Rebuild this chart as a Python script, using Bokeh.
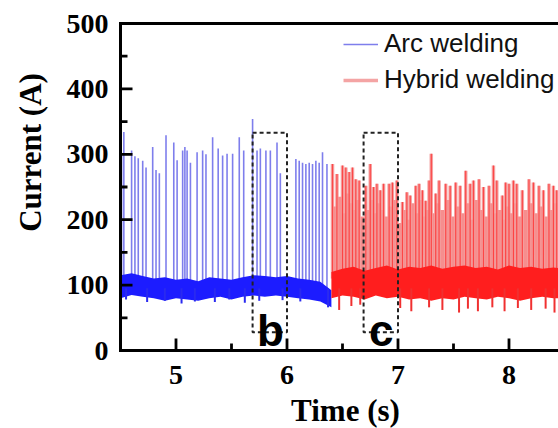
import math
from bokeh.plotting import figure
from bokeh.models import ColumnDataSource, Range1d, Legend, LegendItem
from bokeh.core.properties import value
from bokeh.embed import file_html
from bokeh.resources import INLINE

# ---------------- data ----------------
# Arc welding (blue): baseline band, sampled every 0.1 s
blue_t = [4.50, 4.60, 4.70, 4.80, 4.90, 5.00, 5.10, 5.20, 5.30, 5.40,
          5.50, 5.60, 5.70, 5.80, 5.90, 6.00, 6.10, 6.20, 6.30, 6.40]
blue_upper = [115, 118, 114, 110, 112, 108, 110, 106, 112, 110,
              108, 112, 115, 114, 112, 114, 110, 108, 105, 92]
blue_lower = [80, 85, 82, 80, 76, 80, 78, 76, 80, 82,
              78, 82, 84, 82, 84, 82, 80, 78, 75, 66]
# short-circuit spikes (time, peak current)
blue_spike_t = [4.51, 4.53, 4.60, 4.63, 4.66, 4.70, 4.73, 4.79, 4.82, 4.85,
                4.91, 4.98, 5.01, 5.06, 5.08, 5.10, 5.13, 5.19, 5.24, 5.27,
                5.33, 5.38, 5.42, 5.46, 5.51, 5.57, 5.61, 5.69, 5.73, 5.76,
                5.81, 5.85, 5.91, 5.94, 6.08, 6.11, 6.14, 6.17, 6.20, 6.23,
                6.26, 6.29, 6.32, 6.36]
blue_spike_peak = [300, 334, 306, 297, 294, 290, 280, 311, 276, 271,
                   329, 318, 291, 306, 311, 306, 287, 303, 306, 300,
                   326, 309, 298, 301, 301, 326, 306, 354, 306, 309,
                   306, 306, 318, 271, 293, 290, 287, 285, 287, 285,
                   290, 287, 303, 285]
blue_dip_t = [4.55, 4.74, 4.90, 5.05, 5.17, 5.35, 5.48, 5.62, 5.75, 5.96, 6.12, 6.37]
blue_dip_v = [78, 74, 76, 72, 75, 74, 78, 73, 76, 77, 75, 66]

# Hybrid welding (red): baseline band, sampled every 0.1 s
red_t = [6.40, 6.50, 6.60, 6.70, 6.80, 6.90, 7.00, 7.10, 7.20, 7.30,
         7.40, 7.50, 7.60, 7.70, 7.80, 7.90, 8.00, 8.10, 8.20, 8.30, 8.40, 8.45]
red_upper = [120, 125, 128, 122, 126, 130, 124, 128, 126, 130,
             125, 128, 130, 126, 128, 124, 130, 126, 128, 125, 127, 126]
red_lower = [80, 84, 82, 78, 84, 80, 82, 78, 80, 76,
             80, 78, 82, 80, 78, 82, 80, 76, 80, 82, 80, 80]
red_spike_t = [6.41, 6.45, 6.50, 6.53, 6.56, 6.59, 6.62, 6.65, 6.71, 6.75,
               6.78, 6.81, 6.84, 6.87, 6.92, 6.95, 6.99, 7.04, 7.08, 7.11,
               7.16, 7.19, 7.22, 7.25, 7.28, 7.30, 7.34, 7.37, 7.43, 7.47,
               7.52, 7.56, 7.61, 7.65, 7.68, 7.73, 7.77, 7.82, 7.86, 7.89,
               7.94, 7.97, 8.00, 8.04, 8.07, 8.12, 8.18, 8.22, 8.27, 8.31,
               8.36, 8.40, 8.43]
red_spike_peak = [285, 270, 283, 280, 273, 280, 262, 260, 252, 285,
                  250, 255, 245, 255, 255, 257, 260, 227, 242, 237,
                  252, 255, 245, 229, 260, 301, 240, 260, 255, 252,
                  257, 252, 275, 255, 260, 262, 250, 252, 283, 260,
                  237, 257, 255, 260, 255, 245, 262, 257, 252, 245,
                  255, 252, 245]
# lower, denser spikes that fill the hybrid-welding trace
red_minor_t = [6.43, 6.48, 6.515, 6.545, 6.575, 6.605, 6.635, 6.68, 6.73, 6.765,
               6.795, 6.825, 6.855, 6.895, 6.935, 6.97, 7.015, 7.06, 7.095, 7.135,
               7.175, 7.205, 7.235, 7.265, 7.32, 7.355, 7.40, 7.45, 7.495, 7.54,
               7.585, 7.63, 7.665, 7.705, 7.75, 7.795, 7.84, 7.875, 7.915, 7.955,
               7.985, 8.02, 8.055, 8.095, 8.15, 8.20, 8.245, 8.29, 8.335, 8.38, 8.415]
red_minor_peak = [220, 235, 210, 240, 225, 215, 230, 205, 215, 230,
                  210, 225, 215, 205, 220, 230, 195, 215, 200, 225,
                  210, 230, 205, 215, 210, 225, 215, 230, 205, 220,
                  210, 225, 200, 230, 215, 205, 225, 210, 215, 200,
                  220, 210, 225, 205, 215, 225, 210, 220, 205, 215, 225]
red_dip_t = [6.47, 6.58, 6.66, 7.02, 7.12, 7.28, 7.40, 7.55, 7.63, 7.72,
             7.85, 7.96, 8.08, 8.20, 8.33, 8.41]
red_dip_v = [62, 68, 70, 65, 60, 66, 62, 58, 64, 60, 66, 60, 65, 62, 64, 58]

# dashed boxes (b, c): left, right, bottom, top
box_left = [5.69, 6.69]
box_right = [6.00, 7.00]
box_bottom = [28, 28]
box_top = [333, 333]
box_label = ["b", "c"]
box_label_x = [5.85, 6.85]
box_label_y = [30, 30]

y_ticks = [0, 100, 200, 300, 400, 500]
y_minor = [50, 150, 250, 350, 450]
x_ticks = [5, 6, 7, 8]
x_minor = [4.5, 5.5, 6.5, 7.5, 8.5]
y_tick_labels = ["0", "100", "200", "300", "400", "500"]
x_tick_labels = ["5", "6", "7", "8"]
x_title = "Time (s)"
y_title = "Current (A)"

# ---------------- geometry ----------------
# the data box spans X0..X1, Y0..Y1; it sits at pixels left=120, top=23, bottom=350
X0, X1, Y0, Y1 = 4.5, 8.446, 0, 500
W, H = 558, 428
BL, BT, BB = 120, 23, 78
px_x = (X1 - X0) / (W - BL)          # data units per pixel, x
px_y = (Y1 - Y0) / (H - BT - BB)     # data units per pixel, y

def sx(px):   # canvas pixel (from left) -> data x
    return X0 + (px - BL) * px_x

def sy(py):   # canvas pixel (from top) -> data y
    return Y0 + (H - BB - py) * px_y

p = figure(width=W, height=H, output_backend="svg", toolbar_location=None,
           x_range=Range1d(sx(0), sx(W)), y_range=Range1d(sy(H), sy(0)),
           x_axis_location=None, y_axis_location=None,
           min_border_left=0, min_border_right=0, min_border_top=0,
           min_border_bottom=0)
p.outline_line_color = None
p.grid.visible = False
p.background_fill_color = "white"
p.border_fill_color = "white"

def base_at(ts, tb, ub):
    # upper-band value at each spike time, taken from the nearest baseline sample
    out = []
    for t in ts:
        i = min(range(len(tb)), key=lambda k: abs(tb[k] - t))
        out.append(ub[i] - 10)
    return out

# blue
bsrc = ColumnDataSource(dict(x=blue_spike_t, y0=base_at(blue_spike_t, blue_t, blue_upper),
                             y1=blue_spike_peak))
blue_spikes = p.segment(x0="x", y0="y0", x1="x", y1="y1", source=bsrc,
                        line_color="#7070ea", line_width=1.6, line_alpha=0.9)
p.varea(x=blue_t, y1=blue_lower, y2=blue_upper, fill_color="#1c1cff")
p.segment(x0=blue_dip_t, y0=[95] * len(blue_dip_t), x1=blue_dip_t, y1=blue_dip_v,
          line_color="#2a2af0", line_width=2)

# red
msrc = ColumnDataSource(dict(x=red_minor_t, y0=base_at(red_minor_t, red_t, red_upper),
                             y1=red_minor_peak))
p.segment(x0="x", y0="y0", x1="x", y1="y1", source=msrc,
          line_color="#f47a7a", line_width=4.5, line_alpha=0.85)
rsrc = ColumnDataSource(dict(x=red_spike_t, y0=base_at(red_spike_t, red_t, red_upper),
                             y1=red_spike_peak))
red_spikes = p.segment(x0="x", y0="y0", x1="x", y1="y1", source=rsrc,
                       line_color="#f39a9a", line_width=3.5, line_alpha=0.9)
p.segment(x0="x", y0="y0", x1="x", y1="y1", source=rsrc,
          line_color="#ff3030", line_width=1.2, line_alpha=0.8)
p.varea(x=red_t, y1=red_lower, y2=red_upper, fill_color="#ff1e1e")
p.segment(x0=red_dip_t, y0=[95] * len(red_dip_t), x1=red_dip_t, y1=red_dip_v,
          line_color="#f03030", line_width=2)

# white masks outside the data box
p.varea(x=[sx(0), sx(W)], y1=[sy(H), sy(H)], y2=[Y0, Y0], fill_color="white")
p.varea(x=[sx(0), X0], y1=[Y0, Y0], y2=[Y1, Y1], fill_color="white")

# axis lines (left, bottom, top) as solid bars 3 px thick
hw_x, hw_y = 1.5 * px_x, 1.5 * px_y
p.quad(left=[X0 - hw_x, X0 - hw_x, X0 - hw_x], right=[X0 + hw_x, X1, X1],
       bottom=[Y0 - hw_y, Y0 - hw_y, Y1 - hw_y], top=[Y1 + hw_y, Y0 + hw_y, Y1 + hw_y],
       fill_color="black", line_color=None)

# inward tick marks as solid bars
tw_x, tw_y = 1.4 * px_x, 1.4 * px_y
p.quad(left=[t - tw_x for t in x_ticks], right=[t + tw_x for t in x_ticks],
       bottom=[Y0] * len(x_ticks), top=[Y0 + 12 * px_y] * len(x_ticks),
       fill_color="black", line_color=None)
p.quad(left=[t - tw_x for t in x_minor], right=[t + tw_x for t in x_minor],
       bottom=[Y0] * len(x_minor), top=[Y0 + 7 * px_y] * len(x_minor),
       fill_color="black", line_color=None)
p.quad(left=[X0] * len(y_ticks), right=[X0 + 12 * px_x] * len(y_ticks),
       bottom=[v - tw_y for v in y_ticks], top=[v + tw_y for v in y_ticks],
       fill_color="black", line_color=None)
p.quad(left=[X0] * len(y_minor), right=[X0 + 7 * px_x] * len(y_minor),
       bottom=[v - tw_y for v in y_minor], top=[v + tw_y for v in y_minor],
       fill_color="black", line_color=None)

# tick labels
serif = value("Liberation Serif")
p.text(x=[X0 - 12 * px_x] * len(y_ticks), y=y_ticks, text=y_tick_labels,
       text_align="right", text_baseline="middle", text_font=serif,
       text_font_style="bold", text_font_size="28px", text_color="black")
p.text(x=x_ticks, y=[Y0 - 15 * px_y] * len(x_ticks), text=x_tick_labels,
       text_align="center", text_baseline="top", text_font=serif,
       text_font_style="bold", text_font_size="28px", text_color="black")

# axis titles
p.text(x=[sx(345)], y=[sy(410)], text=[x_title], text_align="center",
       text_baseline="middle", text_font=serif, text_font_style="bold",
       text_font_size="31px", text_color="black")
p.text(x=[sx(30)], y=[sy(152)], text=[y_title], angle=math.pi / 2,
       text_align="center", text_baseline="middle", text_font=serif,
       text_font_style="bold", text_font_size="31px", text_color="black")

# dashed boxes
p.quad(left=box_left, right=box_right, bottom=box_bottom, top=box_top,
       fill_color=None, line_color="#222222", line_width=2, line_dash="4 3")
p.text(x=box_label_x, y=box_label_y, text=box_label, text_align="center",
       text_baseline="alphabetic", text_font=value("Liberation Sans"),
       text_font_style="bold", text_font_size="44px", text_color="black")

legend = Legend(items=[LegendItem(label="Arc welding", renderers=[blue_spikes]),
                       LegendItem(label="Hybrid welding", renderers=[red_spikes])],
                location=(343, 333), border_line_color=None, background_fill_alpha=0,
                label_text_font="Liberation Sans", label_text_font_size="26px",
                label_text_color="#111111",
                glyph_width=35, glyph_height=30, label_height=30, label_standoff=6,
                spacing=5, padding=0, margin=0)
p.add_layout(legend)

open("out.html", "w").write(file_html(p, INLINE))
